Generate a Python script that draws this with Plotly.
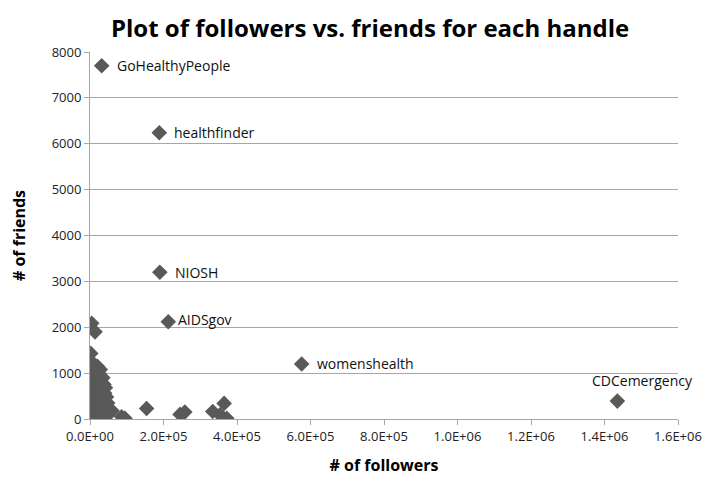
import plotly.graph_objects as go

# Named handles (labelled points)
named_handles = ["GoHealthyPeople", "healthfinder", "NIOSH", "AIDSgov", "womenshealth", "CDCemergency"]
named_followers = [31800, 188600, 190000, 213000, 576000, 1435000]
named_friends = [7700, 6240, 3200, 2120, 1200, 390]

# Unlabelled handles
other_followers = [
    2000, 4600, 13600,
    3000, 6000, 2000, 9000, 15000, 25000, 5000, 12000, 20000, 30000, 3000, 8000,
    18000, 26000, 35000, 4000, 10000, 22000, 40000, 1000, 7000, 16000, 28000,
    2000, 12000, 24000, 33000, 5000, 15000, 1000, 9000, 20000, 30000, 45000,
    3000, 12000, 25000, 38000, 55000, 1000, 8000, 18000, 30000, 500, 6000,
    14000, 22000, 42000, 50000,
    20000, 10000, 28000, 35000, 38000, 42000, 45000, 48000, 40000, 60000, 35000,
    86000, 95000, 154000, 245000, 258000, 334000, 354000, 365000, 372000,
]
other_friends = [
    1430, 2085, 1900,
    1250, 1180, 1100, 1050, 1000, 980, 950, 900, 870, 820, 800, 760,
    720, 700, 650, 640, 600, 580, 560, 520, 500, 470, 440,
    400, 380, 350, 320, 300, 280, 250, 230, 210, 190, 170,
    150, 130, 110, 100, 150, 80, 60, 50, 40, 20, 10,
    5, 15, 30, 200,
    1150, 1200, 1080, 900, 750, 680, 480, 350, 250, 180, 60,
    50, 15, 230, 100, 150, 165, 90, 340, 15,
]

x_tickvals = [0, 200000, 400000, 600000, 800000, 1000000, 1200000, 1400000, 1600000]
x_ticktext = ["0.0E+00", "2.0E+05", "4.0E+05", "6.0E+05", "8.0E+05", "1.0E+06", "1.2E+06", "1.4E+06", "1.6E+06"]
y_tickvals = [0, 1000, 2000, 3000, 4000, 5000, 6000, 7000, 8000]

# label offsets (pixels)
label_dx = [13, 13, 13, 8, 13, -27]
label_dy = [0, 0, 0, 2, 0, 21]

mcolor = "#595959"
fig = go.Figure()
fig.add_trace(go.Scatter(
    x=other_followers + named_followers,
    y=other_friends + named_friends,
    mode="markers",
    marker=dict(symbol="diamond", size=12, color=mcolor, line=dict(width=0)),
    showlegend=False,
    hoverinfo="skip",
))

for h, xv, yv, dx, dy in zip(named_handles, named_followers, named_friends, label_dx, label_dy):
    fig.add_annotation(x=xv, y=yv, text=h, showarrow=False, xanchor="left", yanchor="middle",
                       xshift=dx, yshift=dy,
                       font=dict(family="Open Sans", size=14, color="#111111"))

# page body has an 8px margin, so the figure is 8px smaller and left/top margins shifted
fig.update_layout(
    width=703, height=474,
    margin=dict(l=82, r=33, t=44, b=63, autoexpand=False),
    paper_bgcolor="white", plot_bgcolor="white",
    title=dict(text="<b>Plot of followers vs. friends for each handle</b>", x=0.515, xanchor="center",
               y=0.975, yanchor="top",
               font=dict(family="Open Sans", size=24, color="#000000")),
    font=dict(family="Open Sans", size=12, color="#222222"),
)
fig.update_xaxes(range=[0, 1600000], tickvals=x_tickvals, ticktext=x_ticktext,
                 showgrid=False, zeroline=False, showline=True, linecolor="#a6a6a6", linewidth=1,
                 ticks="outside", ticklen=5, tickcolor="#a6a6a6", automargin=False,
                 tickfont=dict(family="Open Sans", size=13, color="#222222"),
                 title=dict(text="<b># of followers</b>", standoff=16,
                            font=dict(family="Open Sans", size=16, color="#000000")))
fig.update_yaxes(range=[0, 8000], tickvals=y_tickvals,
                 showgrid=True, gridcolor="#a6a6a6", gridwidth=1, zeroline=False,
                 showline=True, linecolor="#a6a6a6", linewidth=1,
                 ticks="outside", ticklen=5, tickcolor="#a6a6a6", automargin=False,
                 tickfont=dict(family="Open Sans", size=13, color="#222222"),
                 title=dict(text="<b># of friends</b>", standoff=34,
                            font=dict(family="Open Sans", size=16, color="#000000")))

fig.write_html("out.html")
